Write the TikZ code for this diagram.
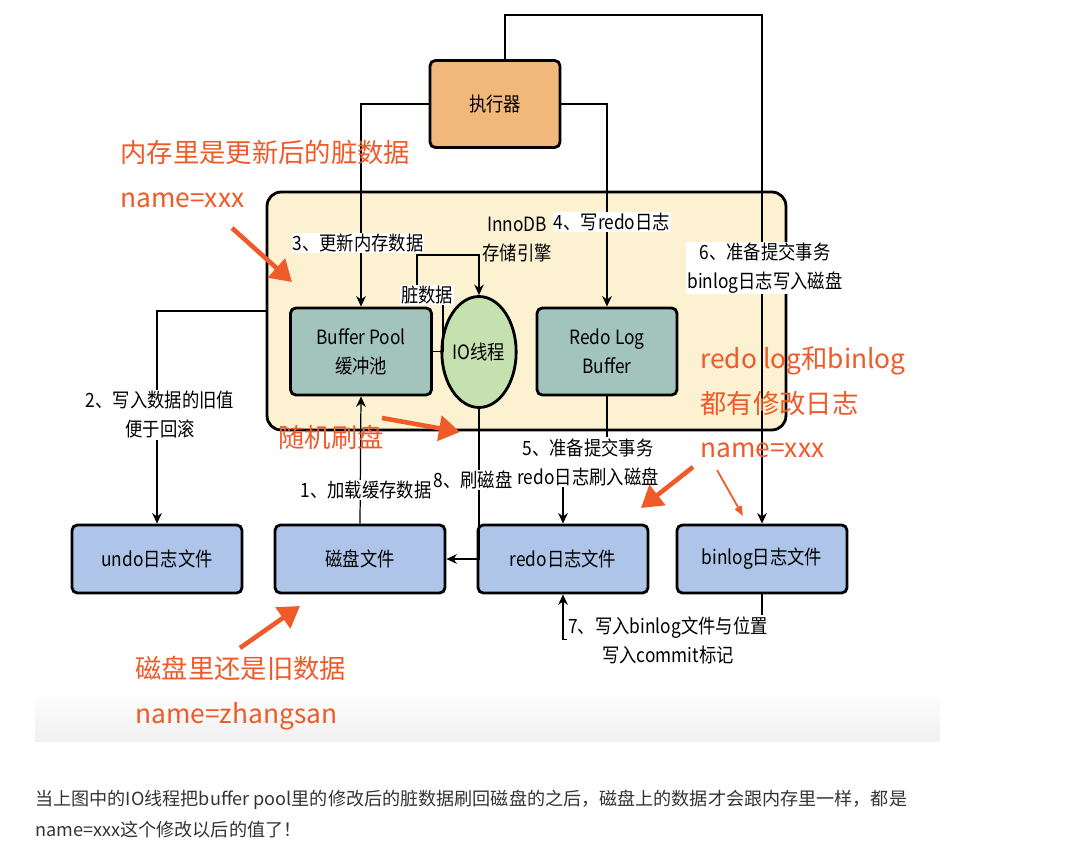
\documentclass[tikz,border=0pt]{standalone}
\usepackage{fontspec}
\setmainfont{Noto Sans CJK SC}
\newfontfamily\diagfont[FakeStretch=0.88]{Noto Sans CJK SC}
\usetikzlibrary{shapes.geometric, arrows.meta, positioning}
\definecolor{execorange}{HTML}{F2B77A}
\definecolor{enginecream}{HTML}{FCF1D1}
\definecolor{poolteal}{HTML}{A2C4BC}
\definecolor{iogreen}{HTML}{C6E0B0}
\definecolor{fileblue}{HTML}{AEC4E8}
\definecolor{notered}{HTML}{F05A28}
\definecolor{captiongray}{HTML}{333333}

\begin{document}
\begin{tikzpicture}[x=0.02cm, y=-0.02cm, >={Stealth[length=6pt,width=5.5pt]},
  font=\diagfont\fontsize{11.2}{16.5}\selectfont,
  unit/.style={rectangle, rounded corners=3pt, draw, line width=1.6pt, align=center, inner sep=0pt},
  comp/.style={unit, fill=poolteal, minimum width=2.82cm, minimum height=1.74cm},
  filebox/.style={unit, fill=fileblue, minimum width=3.4cm, minimum height=1.36cm},
  conn/.style={draw, line width=0.7pt},
  steplabel/.style={fill=white, inner sep=0.6pt, align=center},
  remark/.style={text=notered, font=\fontsize{15}{25.5}\selectfont, align=left, inner sep=0pt},
  pointer/.style={draw=notered, line width=2.6pt, -{Triangle[length=0.42cm,width=0.5cm]}}]
  \useasboundingbox (0,0) rectangle (1076,847);

  % engine and its parts
  \node[unit, fill=execorange, minimum width=2.6cm, minimum height=1.74cm] (exec) at (495,104) {执行器};
  \node[unit, fill=enginecream, rounded corners=8pt, minimum width=10.38cm, minimum height=4.76cm] (innodb) at (526.5,311) {};
  \node[align=center] (innodbname) at (517,240) {InnoDB\\存储引擎};
  \node[comp] (bp) at (361,351.5) {Buffer Pool\\缓冲池};
  \node[draw, line width=1.6pt, ellipse, fill=iogreen, minimum width=1.28cm, minimum height=2.22cm, inner sep=0pt] (io) at (479,352) {IO线程};
  \node[comp, minimum width=2.8cm] (rlb) at (607,351.5) {Redo Log\\Buffer};

  % files on disk
  \node[filebox] (undo) at (157,559) {undo日志文件};
  \node[filebox] (disk) at (360,559) {磁盘文件};
  \node[filebox] (redo) at (563,559) {redo日志文件};
  \node[filebox] (binlog) at (762,559) {binlog日志文件};

  % connectors
  \draw[conn, ->] ([xshift=0.2cm]exec.north) -- ++(0,-44) -| (binlog.north);
  \draw[conn, ->] (exec.west) -| (bp.north);
  \draw[conn, ->] (exec.east) -| (rlb.north);
  \draw[conn, ->] (bp.east) -| (443,295) -| (417,255) -| (io.north);
  \draw[conn, ->] (innodb.west) -| (undo.north);
  \draw[conn, ->] (disk.north) -- (bp.south);
  \draw[conn, ->] (io.south) |- (disk.east);
  \draw[conn, ->] (rlb.south) -- ++(0,65) -| (redo.north);
  \draw[conn, ->] (binlog.south) -- ++(0,45) -| (redo.south);

  % step labels
  \node[steplabel] (step3) at (358,243) {3、更新内存数据};
  \node[steplabel] (step4) at (612,222) {4、写redo日志};
  \node[steplabel] (step6) at (765,268) {6、准备提交事务\\binlog日志写入磁盘};
  \node[steplabel] (dirty) at (427,295) {脏数据};
  \node[steplabel] (step2) at (160,415) {2、写入数据的旧值\\便于回滚};
  \node[steplabel] (step1) at (366,490) {1、加载缓存数据};
  \node[steplabel] (step8) at (473,480) {8、刷磁盘};
  \node[steplabel] (step5) at (588,462) {5、准备提交事务\\redo日志刷入磁盘};
  \node[steplabel] (step7) at (668,640) {7、写入binlog文件与位置\\写入commit标记};

  % red remarks
  \fill[top color=white, bottom color=black!6] (35,690) rectangle (940,742);
  \node[remark, anchor=north west] (memnote) at (120,140) {内存里是更新后的脏数据\\name=xxx};
  \node[remark, anchor=north west] (flushnote) at (278,425) {随机刷盘};
  \node[remark, anchor=north west] (lognote) at (700,346) {redo log和binlog\\都有修改日志\\name=xxx};
  \node[remark, anchor=north west] (disknote) at (135,656) {磁盘里还是旧数据\\name=zhangsan};
  \coordinate (p1a) at (232,228); \coordinate (p1b) at (292,282);
  \coordinate (p2a) at (382,418); \coordinate (p2b) at (460,432);
  \coordinate (p3a) at (693,467); \coordinate (p3b) at (641,508);
  \coordinate (p4a) at (717,470); \coordinate (p4b) at (743,516);
  \coordinate (p5a) at (240,648); \coordinate (p5b) at (300,606);
  \draw[pointer] (p1a) -- (p1b);
  \draw[pointer] (p2a) -- (p2b);
  \draw[pointer] (p3a) -- (p3b);
  \draw[draw=notered, line width=1pt, -{Triangle[length=0.2cm,width=0.15cm]}] (p4a) -- (p4b);
  \draw[pointer] (p5a) -- (p5b);

  % caption below the figure
  \node[anchor=west, text=captiongray, inner sep=0pt, font=\fontsize{10.3}{12}\selectfont] (caption1) at (35,800) {当上图中的IO线程把buffer pool里的修改后的脏数据刷回磁盘的之后，磁盘上的数据才会跟内存里一样，都是};
  \node[anchor=west, text=captiongray, inner sep=0pt, font=\fontsize{10.3}{12}\selectfont] (caption2) at (35,830) {name=xxx这个修改以后的值了！};
\end{tikzpicture}
\end{document}
